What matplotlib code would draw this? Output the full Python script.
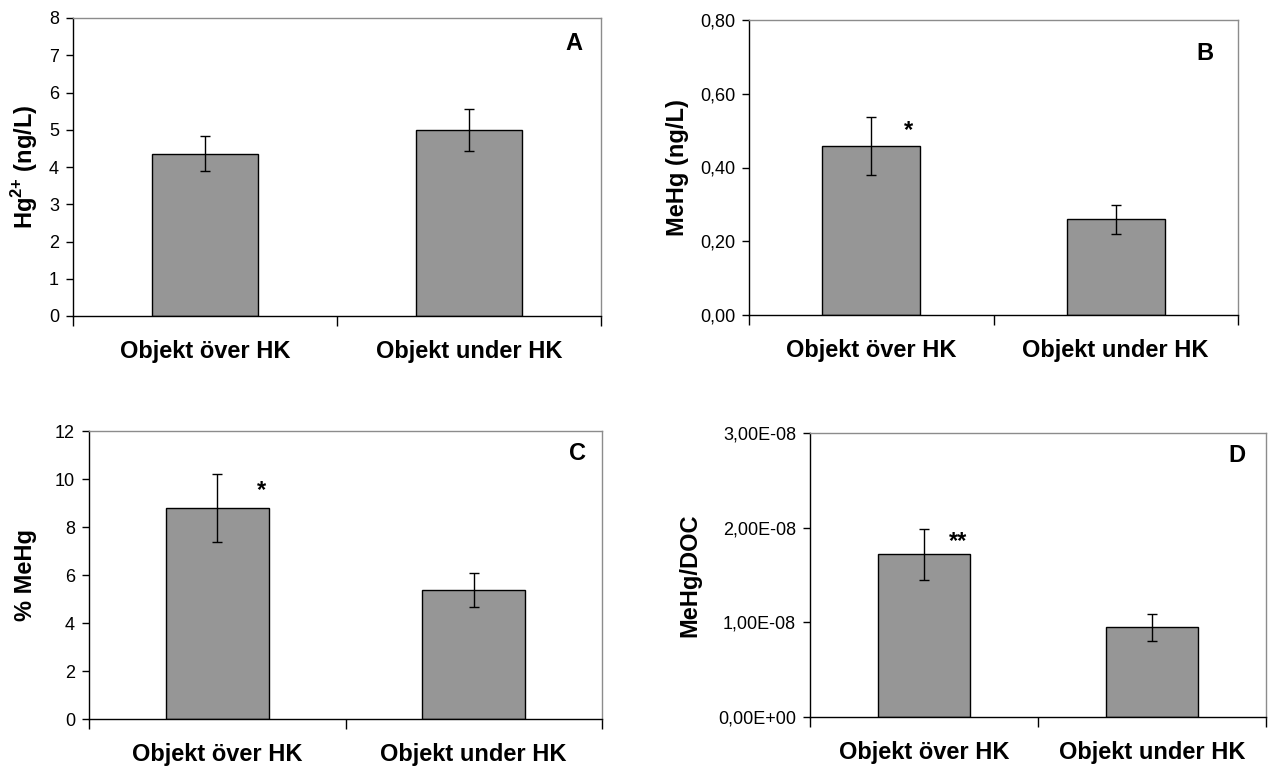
import matplotlib.pyplot as plt
from matplotlib.ticker import FuncFormatter, FixedLocator

plt.rcParams['font.family'] = ['Liberation Sans', 'DejaVu Sans']
plt.rcParams['mathtext.fontset'] = 'custom'
plt.rcParams['mathtext.rm'] = 'Liberation Sans'
plt.rcParams['mathtext.bf'] = 'Liberation Sans:bold'

categories = ["Objekt över HK", "Objekt under HK"]

# panel A: Hg2+ (ng/L)
hg_mean = [4.36, 5.00]
hg_err = [0.47, 0.57]
# panel B: MeHg (ng/L)
mehg_mean = [0.458, 0.259]
mehg_err = [0.078, 0.038]
# panel C: % MeHg
pct_mean = [8.79, 5.38]
pct_err = [1.40, 0.72]
# panel D: MeHg/DOC
doc_mean = [1.72e-8, 0.948e-8]
doc_err = [0.27e-8, 0.14e-8]

W, H = 1268, 770
fig = plt.figure(figsize=(W / 100, H / 100), dpi=100)


def box(left, right, top, bottom):
    return [left / W, (H - bottom) / H, (right - left) / W, (bottom - top) / H]


def fmt_int(v, pos):
    return "%d" % round(v)


def fmt_dec(v, pos):
    return ("%.2f" % v).replace(".", ",")


def fmt_sci(v, pos):
    s = "%.2E" % v
    return s.replace(".", ",")


def panel(rect, means, errs, ymax, ystep, fmt, ylabel, letter, letter_xy, label_x, star=None):
    ax = fig.add_axes(rect)
    x = [0, 1]
    ax.bar(x, means, width=0.4, color="#969696", edgecolor="black", linewidth=1, zorder=2)
    ax.errorbar(x, means, yerr=errs, fmt="none", ecolor="black", elinewidth=1,
                capsize=3.3, capthick=1, zorder=3)
    ax.set_xlim(-0.5, 1.5)
    ax.set_ylim(0, ymax)
    n = int(round(ymax / ystep))
    ax.yaxis.set_major_locator(FixedLocator([i * ystep for i in range(n + 1)]))
    ax.yaxis.set_major_formatter(FuncFormatter(fmt))
    ax.tick_params(axis="y", direction="out", length=5, width=1, labelsize=13, pad=5)
    ax.xaxis.set_major_locator(FixedLocator([-0.5, 0.5, 1.5]))
    ax.xaxis.set_minor_locator(FixedLocator(x))
    ax.set_xticklabels([], minor=False)
    ax.set_xticklabels(categories, minor=True, fontsize=17, fontweight="bold")
    ax.tick_params(axis="x", which="major", direction="out", length=7, width=1)
    ax.tick_params(axis="x", which="minor", length=0, pad=17)
    for s in ["left", "bottom"]:
        ax.spines[s].set_color("black")
        ax.spines[s].set_linewidth(1)
    for s in ["top", "right"]:
        ax.spines[s].set_color("#8c8c8c")
        ax.spines[s].set_linewidth(1)
    ax.set_ylabel(ylabel, fontsize=17, fontweight="bold")
    ax.yaxis.set_label_coords(label_x, 0.5)
    ax.text(letter_xy[0], letter_xy[1], letter, transform=ax.transAxes, fontsize=17,
            fontweight="bold", ha="center", va="center")
    if star:
        ax.text(star[0], star[1], star[2], fontsize=17, fontweight="bold",
                ha="center", va="center")
    return ax


panel(box(73, 601, 18, 316), hg_mean, hg_err, 8, 1, fmt_int,
      r"Hg$^{\mathbf{2{+}}}$ (ng/L)", "A", (0.949, 0.913), -0.0625)
panel(box(749, 1238, 20, 315), mehg_mean, mehg_err, 0.8, 0.2, fmt_dec,
      "MeHg (ng/L)", "B", (0.932, 0.888), -0.123, star=(0.152, 0.50, "*"))
panel(box(89, 602, 431, 719), pct_mean, pct_err, 12, 2, fmt_int,
      "% MeHg", "C", (0.952, 0.922), -0.101, star=(0.172, 9.5, "*"))
panel(box(810, 1266, 433, 717), doc_mean, doc_err, 3e-8, 1e-8, fmt_sci,
      "MeHg/DOC", "D", (0.937, 0.922), -0.239, star=(0.15, 1.85e-8, "**"))

fig.savefig("out.png", dpi=100)
